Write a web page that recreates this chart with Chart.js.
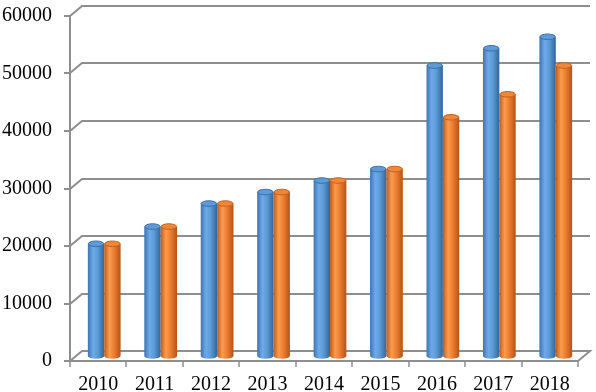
<!DOCTYPE html>
<html>
<head>
<meta charset="utf-8">
<script src="https://cdn.jsdelivr.net/npm/chart.js@4.4.0/dist/chart.umd.min.js"></script>
<style>
  html, body { margin: 0; padding: 0; background: #fff; }
  #wrap { width: 596px; height: 392px; }
</style>
</head>
<body>
<div id="wrap"><canvas id="chart" width="596" height="392"></canvas></div>
<script>
// data
var years = ['2010', '2011', '2012', '2013', '2014', '2015', '2016', '2017', '2018'];
var blueValues = [20000, 23000, 27000, 29000, 31000, 33000, 51000, 54000, 56000];
var orangeValues = [20000, 23000, 27000, 29000, 31000, 33000, 42000, 46000, 51000];
var yTickValues = [0, 10000, 20000, 30000, 40000, 50000, 60000];

// depth of the fake 3d box
var DX = 12, DY = 10;
var LINE = '#8e8e8e';

var styles = [
    { stops: ['#3b74b2', '#6eaaea', '#5b9bd5', '#33659b'], cap: '#5d9ad8', edge: '#3d70a8' },
    { stops: ['#c05c1b', '#fa9c4e', '#ed7d31', '#b45318'], cap: '#ef8739', edge: '#c3621f' }
];

var boxPlugin = {
    id: 'box3d',
    beforeDatasetsDraw: function (chart) {
        var ctx = chart.ctx, a = chart.chartArea;
        var y = chart.scales.y;
        ctx.save();
        ctx.strokeStyle = LINE;
        ctx.lineWidth = 2;
        ctx.lineCap = 'butt';
        yTickValues.forEach(function (v) {
            var py = Math.round(y.getPixelForValue(v));
            ctx.beginPath();
            ctx.moveTo(a.left - 6, py);
            ctx.lineTo(a.left, py);
            ctx.lineTo(a.left + DX, py - DY);
            ctx.lineTo(a.right + DX, py - DY);
            if (v === 0) {
                ctx.lineTo(a.right, py);
                ctx.lineTo(a.left, py);
            }
            ctx.stroke();
        });
        // front vertical axis
        ctx.beginPath();
        ctx.moveTo(a.left, Math.round(y.getPixelForValue(60000)));
        ctx.lineTo(a.left, a.bottom);
        ctx.stroke();
        // category ticks under the floor
        ctx.lineWidth = 1.5;
        var step = (a.right - a.left) / years.length;
        for (var i = 0; i <= years.length; i++) {
            var px = Math.round(a.left + i * step);
            ctx.beginPath();
            ctx.moveTo(px, a.bottom);
            ctx.lineTo(px, a.bottom + 6);
            ctx.stroke();
        }
        ctx.restore();
    },
    afterDatasetsDraw: function (chart) {
        var ctx = chart.ctx;
        ctx.save();
        ctx.translate(DX / 2, -DY / 2);
        chart.data.datasets.forEach(function (ds, di) {
            var st = styles[di];
            chart.getDatasetMeta(di).data.forEach(function (bar) {
                var p = bar.getProps(['x', 'y', 'base', 'width'], true);
                var rx = p.width / 2, ry = p.width * 0.17;
                var l = p.x - rx, r = p.x + rx;
                var top = p.y + ry, bot = p.base;
                var g = ctx.createLinearGradient(l, 0, r, 0);
                g.addColorStop(0, st.stops[0]);
                g.addColorStop(0.32, st.stops[1]);
                g.addColorStop(0.6, st.stops[2]);
                g.addColorStop(1, st.stops[3]);
                ctx.beginPath();
                ctx.moveTo(l, top);
                ctx.lineTo(l, bot);
                ctx.ellipse(p.x, bot, rx, ry, 0, Math.PI, 0, true);
                ctx.lineTo(r, top);
                ctx.closePath();
                ctx.fillStyle = g;
                ctx.fill();
                // top cap
                ctx.beginPath();
                ctx.ellipse(p.x, top, rx - 0.5, ry, 0, 0, Math.PI * 2);
                ctx.fillStyle = st.cap;
                ctx.fill();
                ctx.lineWidth = 1;
                ctx.strokeStyle = st.edge;
                ctx.stroke();
            });
        });
        ctx.restore();
    }
};

var serif = { family: "'Liberation Serif', 'Times New Roman', serif", size: 20 };

new Chart(document.getElementById('chart'), {
    type: 'bar',
    data: {
        labels: years,
        datasets: [
            { data: blueValues, backgroundColor: 'rgba(0,0,0,0)', borderWidth: 0 },
            { data: orangeValues, backgroundColor: 'rgba(0,0,0,0)', borderWidth: 0 }
        ]
    },
    options: {
        responsive: false,
        animation: false,
        events: [],
        layout: { padding: { left: 0, right: 18, top: 16, bottom: 0 } },
        datasets: { bar: { categoryPercentage: 0.58, barPercentage: 1 } },
        plugins: { legend: { display: false }, tooltip: { enabled: false } },
        scales: {
            x: {
                grid: { display: false, drawTicks: false },
                border: { display: false },
                ticks: { font: serif, color: '#000', padding: 12, maxRotation: 0 },
                afterFit: function (s) {
                    s.height = 31;
                    s.paddingLeft = 0;
                    s.paddingRight = 0;
                }
            },
            y: {
                min: 0,
                max: 60000,
                afterBuildTicks: function (s) {
                    s.ticks = yTickValues.map(function (v) { return { value: v }; });
                },
                grid: { display: false, drawTicks: false },
                border: { display: false },
                ticks: {
                    font: serif,
                    color: '#000',
                    padding: 18,
                    callback: function (v) { return String(v); }
                },
                afterFit: function (s) {
                    s.width = 70;
                    s.paddingTop = 0;
                    s.paddingBottom = 0;
                }
            }
        }
    },
    plugins: [boxPlugin]
});
</script>
</body>
</html>
